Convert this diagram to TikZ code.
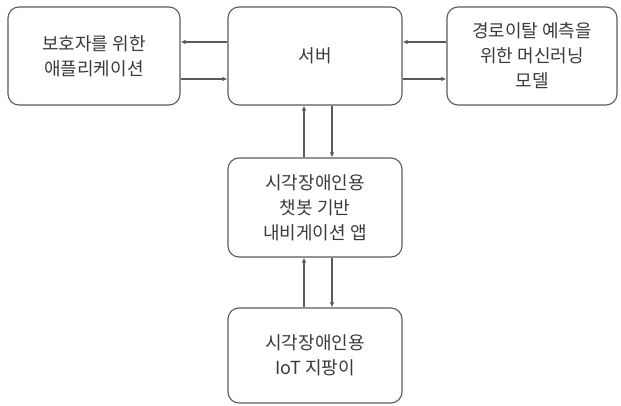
\documentclass[tikz,border=0pt]{standalone}
\usepackage{fontspec}
\setmainfont{Noto Sans CJK KR}
\usetikzlibrary{arrows.meta}
\definecolor{edge}{HTML}{5A5A5A}
\definecolor{txt}{HTML}{3A3A3A}
\begin{document}
\begin{tikzpicture}[x=1pt,y=-1pt,
  box/.style={draw=edge,line width=1.1pt,rounded corners=11pt,align=center,
    text=txt,font=\fontsize{18}{25}\selectfont,inner sep=0pt},
  arr/.style={draw=edge,line width=1.1pt,-{Latex[length=5pt,width=4.5pt]}}]
\useasboundingbox (0,0) rectangle (621,406);
\node[box,minimum width=172pt,minimum height=98pt] (app) at (94,56) {보호자를 위한\\애플리케이션};
\node[box,minimum width=174pt,minimum height=98pt] (srv) at (315,56) {서버};
\node[box,minimum width=170pt,minimum height=98pt] (ml) at (532,56) {경로이탈 예측을\\위한 머신러닝\\모델};
\node[box,minimum width=174pt,minimum height=99pt] (nav) at (315,207.5) {시각장애인용\\챗봇 기반\\내비게이션 앱};
\node[box,minimum width=174pt,minimum height=95pt] (cane) at (315,355.5) {시각장애인용\\IoT 지팡이};
% horizontal
\draw[arr] ([yshift=14pt]srv.west) -- ([yshift=14pt]app.east);
\draw[arr] ([yshift=-23pt]app.east) -- ([yshift=-23pt]srv.west);
\draw[arr] ([yshift=14pt]ml.west) -- ([yshift=14pt]srv.east);
\draw[arr] ([yshift=-23pt]srv.east) -- ([yshift=-23pt]ml.west);
% vertical
\draw[arr] ([xshift=-11pt]nav.north) -- ([xshift=-11pt]srv.south);
\draw[arr] ([xshift=17pt]srv.south) -- ([xshift=17pt]nav.north);
\draw[arr] ([xshift=-11pt]cane.north) -- ([xshift=-11pt]nav.south);
\draw[arr] ([xshift=17pt]nav.south) -- ([xshift=17pt]cane.north);
\end{tikzpicture}
\end{document}
